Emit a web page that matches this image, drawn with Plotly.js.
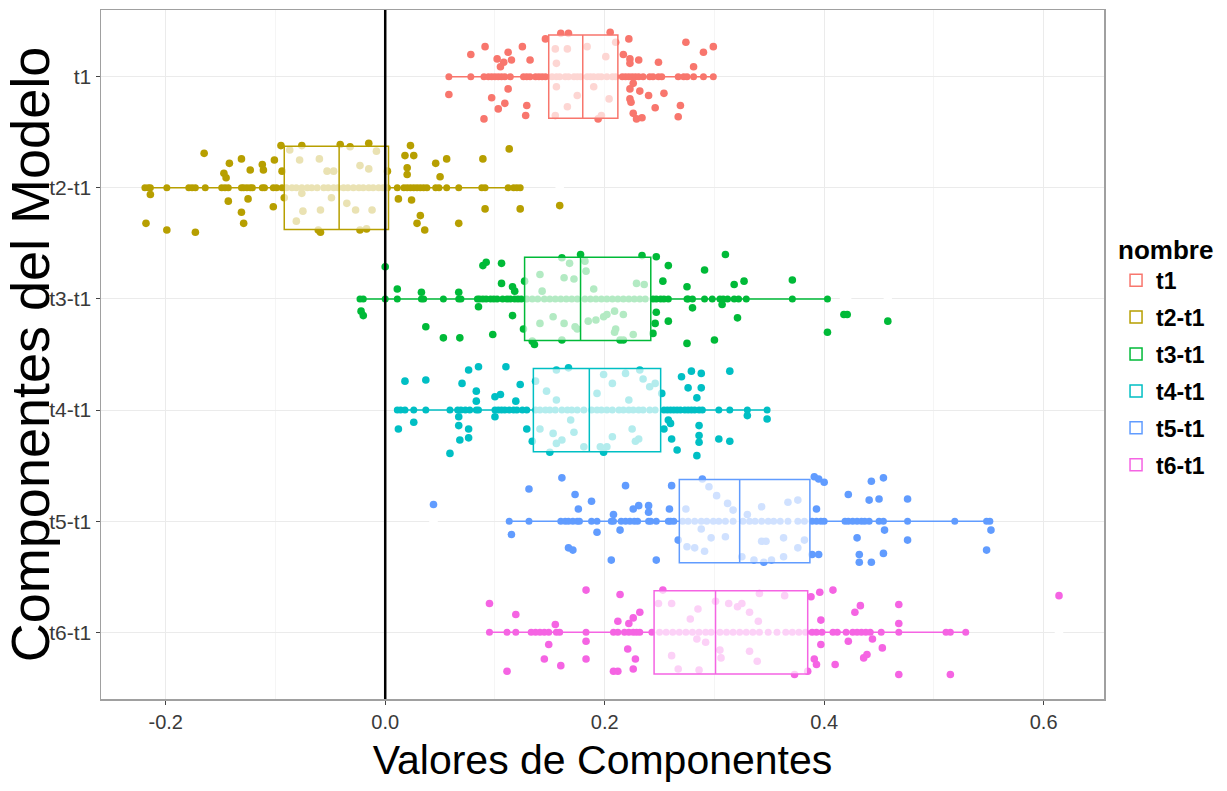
<!DOCTYPE html>
<html><head><meta charset="utf-8">
<script src="https://cdn.plot.ly/plotly-3.0.1.min.js"></script>
<style>html,body{margin:0;padding:0;background:#fff}#chart{width:1227px;height:791px}</style>
</head><body><div id="chart"></div>
<script>
// ---------- data ----------
const categories = ['t1','t2-t1','t3-t1','t4-t1','t5-t1','t6-t1'];
const colors = ['#F8766D','#B79F00','#00BA38','#00BFC4','#619CFF','#F564E3'];
const xTickVals = [-0.2, 0, 0.2, 0.4, 0.6];
const xTickText = ['-0.2','0.0','0.2','0.4','0.6'];
const xMinorVals = [-0.1, 0.1, 0.3, 0.5];
const refLineX = 0;

// box statistics (lower whisker, q1, median, q3, upper whisker)
const boxLow  = [0.058, -0.219, -0.021, 0.011, 0.113, 0.095];
const boxQ1   = [0.149, -0.092,  0.127, 0.135, 0.268, 0.245];
const boxMed  = [0.180, -0.042,  0.178, 0.186, 0.323, 0.301];
const boxQ3   = [0.212,  0.003,  0.242, 0.251, 0.387, 0.385];
const boxHigh = [0.299,  0.124,  0.403, 0.348, 0.551, 0.529];

// points drawn on the centre line of each group
const t1Line = [0.058,0.078,0.090,0.094,0.097,0.100,0.103,0.106,0.109,0.114,0.126,0.129,0.132,0.137,0.140,0.143,0.146,0.152,0.156,0.159,0.164,0.167,0.172,0.175,0.178,0.184,0.187,0.190,0.194,0.197,0.202,0.207,0.210,0.216,0.219,0.222,0.225,0.228,0.231,0.235,0.241,0.244,0.249,0.252,0.267,0.272,0.275,0.281,0.290,0.299];
const t2Line = [-0.219,-0.216,-0.214,-0.199,-0.179,-0.176,-0.173,-0.164,-0.149,-0.146,-0.143,-0.131,-0.129,-0.126,-0.123,-0.121,-0.112,-0.110,-0.102,-0.099,-0.094,-0.090,-0.085,-0.081,-0.076,-0.071,-0.067,-0.062,-0.056,-0.052,-0.047,-0.043,-0.038,-0.034,-0.029,-0.024,-0.020,-0.015,-0.011,-0.006,-0.002,0.002,0.011,0.017,0.020,0.023,0.026,0.029,0.032,0.035,0.038,0.046,0.049,0.056,0.067,0.088,0.091,0.112,0.117,0.120,0.123];
const t3Line = [-0.023,-0.020,0.000,0.011,0.033,0.035,0.053,0.067,0.069,0.084,0.086,0.089,0.092,0.096,0.099,0.102,0.107,0.111,0.114,0.118,0.121,0.124,0.129,0.134,0.139,0.145,0.150,0.155,0.160,0.165,0.170,0.175,0.182,0.187,0.192,0.197,0.202,0.207,0.212,0.217,0.222,0.227,0.232,0.237,0.244,0.247,0.251,0.254,0.258,0.275,0.276,0.280,0.291,0.298,0.305,0.308,0.312,0.318,0.322,0.329,0.371,0.403];
const t4Line = [0.011,0.014,0.018,0.026,0.037,0.059,0.066,0.069,0.073,0.077,0.083,0.085,0.100,0.103,0.106,0.109,0.113,0.117,0.120,0.125,0.129,0.137,0.141,0.146,0.150,0.155,0.161,0.166,0.170,0.175,0.181,0.188,0.193,0.197,0.202,0.207,0.213,0.217,0.222,0.226,0.231,0.235,0.241,0.246,0.254,0.257,0.260,0.263,0.266,0.269,0.273,0.276,0.279,0.282,0.286,0.289,0.304,0.314,0.330,0.348];
const t5Line = [0.113,0.131,0.160,0.164,0.167,0.171,0.175,0.177,0.188,0.193,0.206,0.208,0.215,0.219,0.223,0.227,0.230,0.240,0.242,0.247,0.258,0.260,0.263,0.271,0.276,0.282,0.288,0.293,0.299,0.304,0.310,0.317,0.326,0.332,0.337,0.343,0.349,0.354,0.360,0.367,0.376,0.382,0.389,0.393,0.397,0.400,0.419,0.422,0.426,0.430,0.434,0.437,0.441,0.450,0.454,0.476,0.519,0.548,0.551];
const t6Line = [0.095,0.111,0.119,0.133,0.137,0.141,0.145,0.149,0.156,0.159,0.183,0.208,0.212,0.218,0.222,0.226,0.229,0.232,0.243,0.250,0.256,0.262,0.268,0.274,0.280,0.286,0.292,0.297,0.305,0.311,0.317,0.323,0.329,0.335,0.341,0.349,0.357,0.365,0.371,0.377,0.383,0.389,0.393,0.398,0.408,0.412,0.420,0.426,0.430,0.434,0.438,0.442,0.452,0.468,0.511,0.515,0.529];

// jittered points: [value, vertical jitter in category units]
const t1Jitter = [[0.091,-0.27],[0.078,-0.20],[0.102,-0.16],[0.112,-0.22],[0.108,-0.13],[0.105,-0.09],[0.115,-0.15],[0.125,-0.27],[0.132,-0.15],[0.146,-0.34],[0.160,-0.39],[0.167,-0.39],[0.155,-0.25],[0.166,-0.25],[0.156,-0.12],[0.184,-0.27],[0.201,-0.18],[0.205,-0.40],[0.210,-0.31],[0.217,-0.20],[0.222,-0.34],[0.223,-0.16],[0.223,-0.12],[0.231,-0.15],[0.249,-0.13],[0.274,-0.31],[0.281,-0.09],[0.290,-0.22],[0.299,-0.27],
 [0.058,0.16],[0.097,0.19],[0.103,0.29],[0.109,0.24],[0.112,0.11],[0.090,0.38],[0.129,0.26],[0.128,0.35],[0.156,0.09],[0.166,0.27],[0.175,0.17],[0.155,0.35],[0.194,0.38],[0.197,0.35],[0.190,0.09],[0.204,0.20],[0.223,0.11],[0.226,0.06],[0.223,0.20],[0.224,0.23],[0.232,0.13],[0.240,0.17],[0.226,0.33],[0.229,0.38],[0.234,0.37],[0.246,0.28],[0.254,0.15],[0.269,0.26],[0.267,0.36]];
const t2Jitter = [[-0.165,-0.31],[-0.142,-0.22],[-0.147,-0.13],[-0.145,-0.09],[-0.131,-0.26],[-0.123,-0.16],[-0.112,-0.21],[-0.111,-0.16],[-0.101,-0.25],[-0.094,-0.15],[-0.095,-0.38],[-0.076,-0.38],[-0.078,-0.25],[-0.060,-0.26],[-0.053,-0.15],[-0.047,-0.15],[-0.087,-0.34],[-0.041,-0.39],[-0.032,-0.37],[-0.015,-0.40],[-0.023,-0.20],[-0.015,-0.17],[-0.008,-0.33],[0.002,-0.15],[0.018,-0.29],[0.023,-0.38],[0.026,-0.29],[0.020,-0.18],[0.020,-0.12],[0.046,-0.22],[0.050,-0.10],[0.056,-0.26],[0.089,-0.26],[0.113,-0.35],
 [-0.218,0.32],[-0.214,0.06],[-0.199,0.38],[-0.173,0.40],[-0.143,0.12],[-0.125,0.10],[-0.131,0.22],[-0.129,0.32],[-0.102,0.17],[-0.092,0.09],[-0.076,0.05],[-0.075,0.21],[-0.059,0.20],[-0.061,0.38],[-0.059,0.40],[-0.081,0.30],[-0.049,0.09],[-0.035,0.14],[-0.027,0.20],[-0.023,0.38],[-0.017,0.37],[-0.012,0.20],[0.012,0.10],[0.024,0.11],[0.032,0.25],[0.029,0.32],[0.036,0.38],[0.067,0.32],[0.091,0.19],[0.123,0.19],[0.159,0.16]];
const t3Jitter = [[0.000,-0.29],[0.011,-0.09],[0.033,-0.06],[0.067,-0.06],[0.089,-0.30],[0.092,-0.33],[0.106,-0.32],[0.106,-0.14],[0.116,-0.11],[0.118,-0.07],[0.127,-0.16],[0.141,-0.22],[0.161,-0.37],[0.168,-0.32],[0.163,-0.19],[0.172,-0.18],[0.178,-0.40],[0.182,-0.34],[0.183,-0.25],[0.143,-0.07],[0.190,-0.09],[0.229,-0.14],[0.236,-0.13],[0.234,-0.39],[0.247,-0.38],[0.258,-0.30],[0.253,-0.16],[0.275,-0.11],[0.291,-0.26],[0.310,-0.40],[0.318,-0.13],[0.327,-0.16],[0.371,-0.17],
 [-0.022,0.11],[-0.020,0.15],[0.037,0.25],[0.053,0.35],[0.068,0.35],[0.085,0.07],[0.098,0.32],[0.116,0.15],[0.126,0.27],[0.134,0.38],[0.136,0.41],[0.141,0.22],[0.153,0.16],[0.161,0.37],[0.163,0.22],[0.173,0.25],[0.175,0.27],[0.185,0.20],[0.192,0.19],[0.199,0.16],[0.202,0.14],[0.209,0.11],[0.217,0.14],[0.210,0.27],[0.209,0.30],[0.214,0.37],[0.217,0.37],[0.226,0.32],[0.247,0.12],[0.246,0.22],[0.244,0.31],[0.258,0.20],[0.275,0.40],[0.280,0.08],[0.300,0.37],[0.307,0.05],[0.321,0.17],[0.403,0.30],[0.418,0.14],[0.421,0.14],[0.458,0.20]];
const t4Jitter = [[0.018,-0.26],[0.037,-0.27],[0.070,-0.24],[0.076,-0.36],[0.085,-0.39],[0.083,-0.17],[0.083,-0.08],[0.100,-0.12],[0.105,-0.14],[0.110,-0.39],[0.119,-0.08],[0.123,-0.23],[0.137,-0.26],[0.147,-0.17],[0.156,-0.36],[0.167,-0.38],[0.156,-0.09],[0.199,-0.32],[0.207,-0.24],[0.219,-0.33],[0.235,-0.28],[0.232,-0.36],[0.222,-0.09],[0.241,-0.21],[0.246,-0.24],[0.193,-0.15],[0.252,-0.15],[0.270,-0.30],[0.279,-0.35],[0.288,-0.33],[0.276,-0.20],[0.288,-0.20],[0.284,-0.11],[0.314,-0.35],
 [0.012,0.17],[0.026,0.11],[0.059,0.39],[0.067,0.14],[0.067,0.06],[0.068,0.27],[0.076,0.17],[0.076,0.25],[0.100,0.06],[0.129,0.17],[0.134,0.28],[0.150,0.38],[0.141,0.17],[0.153,0.21],[0.156,0.30],[0.161,0.27],[0.169,0.09],[0.172,0.20],[0.181,0.33],[0.196,0.33],[0.199,0.38],[0.202,0.33],[0.207,0.24],[0.225,0.17],[0.228,0.28],[0.231,0.26],[0.254,0.17],[0.258,0.09],[0.260,0.12],[0.261,0.26],[0.266,0.36],[0.286,0.14],[0.286,0.23],[0.286,0.29],[0.284,0.41],[0.304,0.26],[0.314,0.28],[0.348,0.08],[0.330,0.05]];
const t5Jitter = [[0.044,-0.15],[0.131,-0.29],[0.161,-0.39],[0.173,-0.24],[0.176,-0.11],[0.188,-0.18],[0.208,-0.06],[0.219,-0.32],[0.226,-0.11],[0.231,-0.14],[0.240,-0.14],[0.240,-0.08],[0.259,-0.11],[0.261,-0.32],[0.274,-0.11],[0.289,-0.38],[0.295,-0.31],[0.302,-0.23],[0.312,-0.16],[0.317,-0.10],[0.330,-0.06],[0.343,-0.13],[0.367,-0.17],[0.376,-0.19],[0.391,-0.40],[0.395,-0.38],[0.400,-0.35],[0.393,-0.11],[0.422,-0.24],[0.441,-0.19],[0.443,-0.36],[0.450,-0.20],[0.454,-0.39],[0.476,-0.20],
 [0.115,0.12],[0.167,0.24],[0.171,0.26],[0.193,0.10],[0.206,0.35],[0.214,0.08],[0.247,0.35],[0.267,0.17],[0.275,0.23],[0.282,0.24],[0.288,0.07],[0.297,0.15],[0.291,0.27],[0.310,0.14],[0.325,0.32],[0.336,0.35],[0.345,0.37],[0.352,0.35],[0.343,0.18],[0.347,0.18],[0.363,0.32],[0.363,0.15],[0.376,0.24],[0.382,0.17],[0.389,0.30],[0.395,0.30],[0.430,0.15],[0.432,0.30],[0.432,0.37],[0.443,0.37],[0.454,0.29],[0.455,0.08],[0.476,0.17],[0.548,0.26],[0.552,0.08]];
const t6Jitter = [[0.095,-0.26],[0.119,-0.16],[0.155,-0.07],[0.183,-0.38],[0.214,-0.34],[0.212,-0.10],[0.222,-0.08],[0.226,-0.13],[0.232,-0.18],[0.253,-0.38],[0.249,-0.26],[0.261,-0.26],[0.285,-0.21],[0.278,-0.12],[0.301,-0.28],[0.313,-0.26],[0.321,-0.23],[0.325,-0.26],[0.332,-0.18],[0.341,-0.35],[0.364,-0.33],[0.340,-0.10],[0.388,-0.32],[0.396,-0.36],[0.408,-0.38],[0.397,-0.11],[0.428,-0.18],[0.433,-0.24],[0.468,-0.25],[0.468,-0.08],[0.614,-0.33],
 [0.111,0.35],[0.145,0.24],[0.149,0.11],[0.160,0.30],[0.183,0.08],[0.183,0.24],[0.208,0.35],[0.212,0.35],[0.221,0.15],[0.226,0.33],[0.228,0.24],[0.261,0.21],[0.267,0.33],[0.284,0.06],[0.286,0.34],[0.292,0.09],[0.305,0.16],[0.306,0.23],[0.332,0.17],[0.339,0.26],[0.373,0.38],[0.385,0.35],[0.391,0.24],[0.393,0.29],[0.397,0.11],[0.410,0.29],[0.422,0.08],[0.436,0.23],[0.439,0.20],[0.444,0.06],[0.453,0.14],[0.468,0.38],[0.515,0.38]];

// boxplot outliers (drawn in white on the centre line, as in the original)
const outlierGroup = ['t2-t1','t3-t1','t3-t1','t3-t1','t5-t1','t6-t1'];
const outlierX     = [0.159, 0.418, 0.421, 0.458, 0.044, 0.614];

// ---------- build ----------
const lines = [t1Line, t2Line, t3Line, t4Line, t5Line, t6Line];
const jitters = [t1Jitter, t2Jitter, t3Jitter, t4Jitter, t5Jitter, t6Jitter];
const traces = [];

categories.forEach((c, i) => {
  traces.push({
    type: 'scatter', mode: 'markers', x: lines[i], y: lines[i].map(() => i),
    marker: {color: colors[i], size: 7}, showlegend: false, hoverinfo: 'x', xaxis: 'x', yaxis: 'y'
  });
  traces.push({
    type: 'scatter', mode: 'markers', x: jitters[i].map(p => p[0]), y: jitters[i].map(p => i + p[1]),
    marker: {color: colors[i], size: 7.6}, showlegend: false, hoverinfo: 'x', xaxis: 'x', yaxis: 'y'
  });
});

categories.forEach((c, i) => {
  traces.push({
    type: 'box', orientation: 'h', name: '<b>' + c + '</b>', legendgroup: c,
    xaxis: 'x2', yaxis: 'y2',
    y: [i], q1: [boxQ1[i]], median: [boxMed[i]], q3: [boxQ3[i]],
    lowerfence: [boxLow[i]], upperfence: [boxHigh[i]],
    width: 0.75, whiskerwidth: 0, boxpoints: false,
    line: {color: colors[i], width: 1.5},
    fillcolor: 'rgba(255,255,255,0.7)'
  });
});

traces.push({
  type: 'scatter', mode: 'markers', xaxis: 'x2', yaxis: 'y2',
  x: outlierX, y: outlierGroup.map(g => categories.indexOf(g)),
  marker: {color: '#ffffff', size: 8.5}, showlegend: false, hoverinfo: 'skip'
});

const xRange = [-0.259, 0.655];
const yRange = [5.6, -0.6];
const fontFam = '"Liberation Sans", Arial, sans-serif';

const layout = {
  width: 1227, height: 791,
  margin: {l: 101, r: 123, t: 10, b: 92},
  paper_bgcolor: '#ffffff', plot_bgcolor: '#ffffff',
  font: {family: fontFam, color: '#000'},
  showlegend: true,
  xaxis: {
    range: xRange, tickmode: 'array', tickvals: xTickVals, ticktext: xTickText,
    ticks: 'outside', ticklen: 4, tickcolor: '#444', tickwidth: 1,
    tickfont: {size: 20, color: '#3a3a3a', family: fontFam},
    showgrid: true, gridcolor: '#EBEBEB', gridwidth: 1,
    minor: {tickmode: 'array', tickvals: xMinorVals, showgrid: true, gridcolor: '#F3F3F3', gridwidth: 0.8, ticks: ''},
    zeroline: false, showline: true, mirror: true, linecolor: '#A0A0A0', linewidth: 1.5,
    title: {text: 'Valores de Componentes', font: {size: 41, color: '#000', family: fontFam}, standoff: 14}
  },
  yaxis: {
    range: yRange, tickmode: 'array', tickvals: categories.map((c, i) => i), ticktext: categories,
    ticks: 'outside', ticklen: 4, tickcolor: '#444', tickwidth: 1,
    tickfont: {size: 21, color: '#3a3a3a', family: fontFam},
    showgrid: true, gridcolor: '#EBEBEB', gridwidth: 1,
    zeroline: false, showline: true, mirror: true, linecolor: '#A0A0A0', linewidth: 1.5,
    title: {text: 'Componentes del Modelo', font: {size: 54, color: '#000', family: fontFam}, standoff: 4}
  },
  xaxis2: {overlaying: 'x', range: xRange, visible: false},
  yaxis2: {overlaying: 'y', range: yRange, visible: false},
  shapes: [{type: 'line', xref: 'x', yref: 'paper', x0: refLineX, x1: refLineX, y0: 0, y1: 1,
            line: {color: '#000', width: 2.5}, layer: 'above'}],
  legend: {
    x: 1.012, xanchor: 'left', y: 0.688, yanchor: 'top',
    font: {size: 23, color: '#000', family: fontFam},
    title: {text: '<b>nombre</b>', font: {size: 26, color: '#000', family: fontFam}},
    tracegroupgap: 4, bgcolor: 'rgba(0,0,0,0)'
  }
};

Plotly.newPlot('chart', traces, layout, {displayModeBar: false, staticPlot: true});
</script>
</body></html>
